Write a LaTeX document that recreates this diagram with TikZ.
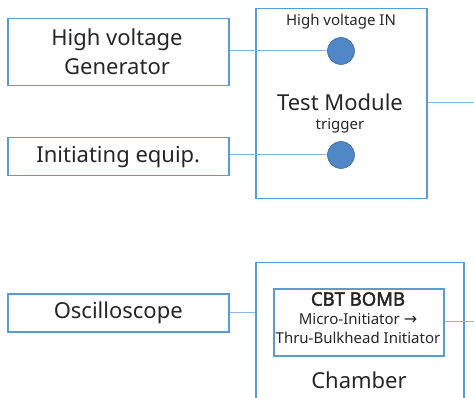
\documentclass[tikz,border=0pt]{standalone}
\usepackage{fontspec}
\setmainfont{Noto Sans}
\newfontfamily\boldsans{Noto Sans}[FakeBold=2.2]
\newfontfamily\arrowfont{DejaVu Sans}
\definecolor{boxblue}{HTML}{5B9BD5}
\definecolor{wireblue}{HTML}{8AB6E2}
\definecolor{portfill}{HTML}{4F86C6}
\definecolor{portedge}{HTML}{41719C}
\definecolor{txt}{HTML}{262626}
\begin{document}
\begin{tikzpicture}[x=1pt,y=-1pt,
  blockbox/.style={draw=boxblue,line width=1.5pt,rectangle,inner sep=0pt,text=txt,align=center},
  wire/.style={draw=wireblue,line width=1pt},
  port/.style={circle,fill=portfill,draw=portedge,line width=0.6pt,minimum size=27pt,inner sep=0pt},
  bigtext/.style={font=\fontsize{22}{29}\selectfont,text=txt,align=center},
  smalltext/.style={font=\fontsize{15}{18}\selectfont,text=txt,align=center}]
\useasboundingbox (0,0) rectangle (474,398);

% left-hand equipment
\node[blockbox,minimum width=221pt,minimum height=67pt,anchor=north west] (hvgen) at (7,18) {};
\node[bigtext] at (117,52) {High voltage\\Generator};
\node[blockbox,minimum width=221pt,minimum height=38pt,anchor=north west] (init) at (7,137) {};
\node[bigtext] at (init.center) {Initiating equip.};
\node[blockbox,minimum width=221pt,minimum height=38pt,anchor=north west] (osc) at (7,293) {};
\node[bigtext] at (osc.center) {Oscilloscope};

% test module with its two input ports
\node[blockbox,minimum width=171pt,minimum height=190pt,anchor=north west] (tm) at (255,8) {};
\node[smalltext] (hvin) at (341,22) {High voltage IN};
\node[port] (p1) at (341,51) {};
\node[bigtext] (tmlabel) at (340,102) {Test Module};
\node[smalltext] (trig) at (340,126) {trigger};
\node[port] (p2) at (341,155) {};

% chamber with the bomb inside
\node[blockbox,minimum width=208pt,minimum height=150pt,anchor=north west] (ch) at (255,262) {};
\node[blockbox,minimum width=170pt,minimum height=67pt,anchor=north west] (bomb) at (273,288) {};
\node[align=center,text=txt,font=\fontsize{15}{19}\selectfont] (bombtext) at (358,318)
  {{\fontsize{18.5}{20}\selectfont\boldsans CBT BOMB}\\
   Micro-Initiator {\arrowfont\fontsize{16}{19}\selectfont →}\\
   Thru-Bulkhead Initiator};
\node[bigtext] (chlabel) at (359,380) {Chamber};

% wiring
\coordinate (tmout) at (474,103);
\coordinate (bombout) at (474,321);
\draw[wire] (hvgen.east |- p1) -- (p1.west);
\draw[wire] (init.east |- p2) -- (p2.west);
\draw[wire] (tm.east |- tmout) -- (tmout);
\draw[wire] (osc.east) -- (osc.east -| ch.west);
\draw[wire] (bomb.east |- bombout) -- (bombout);
\end{tikzpicture}
\end{document}
